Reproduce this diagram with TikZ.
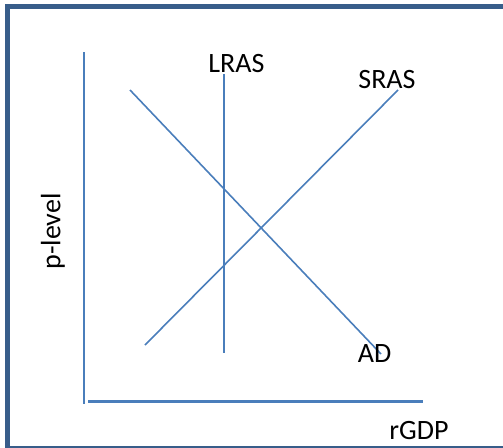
\documentclass[tikz,border=0pt]{standalone}
\usepackage{fontspec}
\setmainfont{Carlito}

\definecolor{frameblue}{RGB}{56,93,138}
\definecolor{curveblue}{RGB}{74,126,187}

\begin{document}
\begin{tikzpicture}[x=1pt,y=-1pt,
  curve/.style={draw=curveblue,line width=1.6pt},
  axis/.style={draw=curveblue,line width=1.8pt},
  lab/.style={font=\fontsize{28}{32}\selectfont,inner sep=0pt}]

\useasboundingbox (0,0) rectangle (503,447);
\clip (0,0) rectangle (503,447);

% frame
\draw[frameblue,line width=5pt] (7.5,6.5) rectangle (530,448);

% axes
\coordinate (ytop) at (84,52);
\coordinate (ybot) at (84,404);
\coordinate (xleft) at (88,401);
\coordinate (xright) at (423,401);
\draw[axis] (ytop) -- (ybot);
\draw[axis,line width=3pt] (xleft) -- (xright);

% curve ends
\coordinate (lrastop) at (224,74);
\coordinate (lrasbot) at (224,353);
\coordinate (srasbot) at (145,345);
\coordinate (srastop) at (398,90);
\coordinate (adtop) at (130,90);
\coordinate (adbot) at (381,354);

\draw[curve] (lrastop) -- (lrasbot);
\draw[curve] (srasbot) -- (srastop);
\draw[curve] (adtop) -- (adbot);

% labels
\node[lab] (lras) at (236.5,63.5) {LRAS};
\node[lab] (sras) at (387,80) {SRAS};
\node[lab] (ad) at (374.5,353.5) {AD};
\node[lab] (rgdp) at (419,430.5) {rGDP};
\node[lab,rotate=90] (plevel) at (53,231.5) {p-level};

\end{tikzpicture}
\end{document}
